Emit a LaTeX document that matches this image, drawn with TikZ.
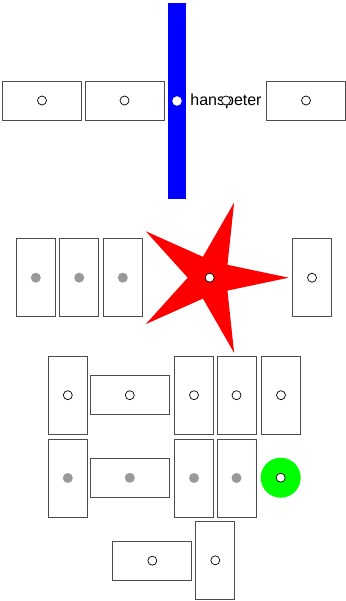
\documentclass[tikz,border=0pt]{standalone}
\usepackage{fontspec}
\setmainfont{Liberation Sans}
\usetikzlibrary{shapes.geometric}
\begin{document}
\begin{tikzpicture}[x=1pt, y=-1pt,
  wbox/.style={draw=black!70, line width=.8pt, minimum width=79pt, minimum height=39pt, inner sep=0pt},
  tbox/.style={draw=black!70, line width=.8pt, minimum width=39pt, minimum height=78pt, inner sep=0pt},
  odot/.style={circle, draw=black, line width=.7pt, fill=white, minimum size=9pt, inner sep=0pt},
  gdot/.style={circle, fill=black!40, minimum size=10pt, inner sep=0pt}]
  \useasboundingbox (0,0) rectangle (345,601);
  \foreach \n/\x in {t1/42, t2/124.5, t3/306}
    \node[wbox] (\n) at (\x,100.5) {};
  \node[fill=blue, minimum width=18pt, minimum height=196pt, inner sep=0pt] (bar) at (177,101) {};
  \node[circle, fill=white, minimum size=9.5pt, inner sep=0pt] (bardot) at (bar) {};
  \node[font=\fontsize{16}{19}\selectfont, anchor=base, inner sep=0pt] (hp) at (226,106) {hanspeter};
  \node[odot] (hpdot) at (226,100.5) {};
  \foreach \n/\x in {s1/35.8, s2/79.2, s3/122.8}
    \node[tbox] (\n) at (\x,277.7) {};
  \node[tbox] (s4) at (312,277.7) {};
  \node[star, star points=5, star point ratio=3.6, minimum size=158pt, inner sep=0pt,
        fill=red, shape border rotate=-90] (st) at (209.7,277.7) {};
  \node[odot] (stdot) at (st) {};
  \foreach \n/\x in {a1/67.8, a3/194, a4/236.5, a5/281}
    \node[tbox] (\n) at (\x,395.2) {};
  \foreach \n/\x in {b1/67.8, b3/194, b4/236.5}
    \node[tbox] (\n) at (\x,478) {};
  \node[wbox] (a2) at (129.8,395.2) {};
  \node[wbox] (b2) at (129.8,477.8) {};
  \node[circle, fill=green, minimum size=40pt, inner sep=0pt] (gc) at (280.7,477.7) {};
  \node[odot] (gcdot) at (gc) {};
  \node[wbox] (c1) at (152.3,560.7) {};
  \node[tbox] (c2) at (215.3,560.3) {};
  \foreach \n in {t1, t2, t3, s4, a1, a2, a3, a4, a5, c1, c2}
    \node[odot] at (\n) {};
  \foreach \n in {s1, s2, s3, b1, b2, b3, b4}
    \node[gdot] at (\n) {};
\end{tikzpicture}
\end{document}
